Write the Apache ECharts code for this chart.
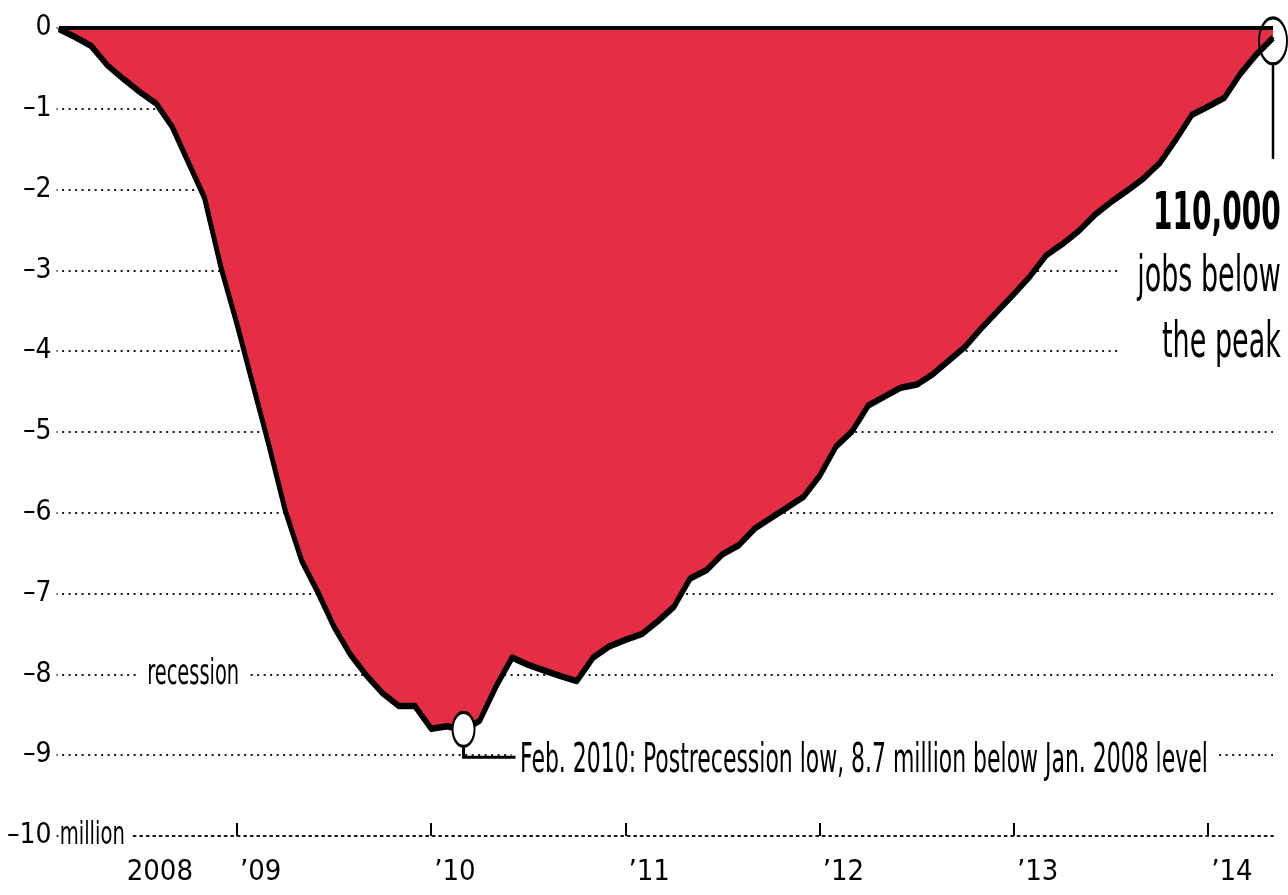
<!DOCTYPE html>
<html>
<head>
<meta charset="utf-8">
<title>Jobs below the peak</title>
<script src="https://cdn.jsdelivr.net/npm/echarts@6/dist/echarts.min.js"></script>
<style>
    html, body { margin: 0; padding: 0; background: #fff; }
    #chart { width: 1288px; height: 895px; }
</style>
</head>
<body>
<div id="chart"></div>
<script>
    // change in payroll jobs since Jan. 2008, millions, monthly Jan 2008 .. Apr 2014
    const jobsBelowPeak = [
        0, -0.10, -0.21, -0.45, -0.62, -0.78, -0.92, -1.21, -1.65, -2.09, -2.94, -3.65,
        -4.41, -5.17, -5.97, -6.58, -6.97, -7.40, -7.74, -8.00, -8.22, -8.38, -8.38, -8.66,
        -8.63, -8.68, -8.56, -8.14, -7.78, -7.87, -7.94, -8.01, -8.07, -7.78, -7.64, -7.56,
        -7.49, -7.33, -7.15, -6.80, -6.70, -6.50, -6.39, -6.18, -6.05, -5.92, -5.79, -5.53,
        -5.17, -4.98, -4.66, -4.55, -4.44, -4.40, -4.27, -4.10, -3.93, -3.70, -3.49, -3.28,
        -3.06, -2.80, -2.66, -2.50, -2.30, -2.14, -2.00, -1.85, -1.66, -1.37, -1.06, -0.96,
        -0.85, -0.55, -0.31, -0.11
    ]
    // x axis counts months since Dec. 2007, year ticks every 12 months
    const yearTicks = [0, 12, 24, 36, 48, 60, 72]
    const yearLabels = ['2008', '\u201909', '\u201910', '\u201911', '\u201912', '\u201913', '\u201914']
    const peakLevel = 0
    const lowIdx = 25 // Feb. 2010
    const lastIdx = jobsBelowPeak.length - 1

    const font = "'DejaVu Sans Condensed', 'Liberation Sans Narrow', sans-serif"
    const points = jobsBelowPeak.map((v, i) => [i + 1, v])
    const dotted = {color: '#1a1a1a', width: 2, type: [2, 4.5]}

    const chart = echarts.init(document.getElementById('chart'))

    const option = {
        animation: false,
        grid: {left: 38, right: 15, top: 28, bottom: 59},
        xAxis: {
            type: 'value',
            min: 0,
            max: 76,
            splitLine: {show: false},
            axisLine: {onZero: false, lineStyle: dotted},
            axisTick: {
                customValues: yearTicks.slice(1),
                inside: true,
                length: 13,
                lineStyle: {color: '#000', width: 2}
            },
            axisLabel: {
                customValues: yearTicks,
                margin: 22,
                align: 'left',
                formatter: v => {
                    const i = yearTicks.indexOf(v)
                    return i === 0 ? '{first|' + yearLabels[i] + '}' : '{yr|' + yearLabels[i] + '}'
                },
                rich: {
                    first: {padding: [0, 0, 0, 84], fontSize: 29, fontFamily: font, color: '#000'},
                    yr: {padding: [0, 0, 0, 3], fontSize: 29, fontFamily: font, color: '#000'}
                }
            }
        },
        yAxis: [
            {
                // labels only, drawn over the dotted lines
                type: 'value',
                min: -10,
                max: 0,
                interval: 1,
                z: 1,
                axisLine: {show: false},
                axisTick: {show: false},
                splitLine: {show: false},
                axisLabel: {
                    formatter: v => v === 0 ? '0' : '\u2013' + Math.abs(v),
                    align: 'right',
                    margin: -14,
                    fontSize: 28,
                    fontFamily: font,
                    color: '#000',
                    backgroundColor: '#fff',
                    padding: [0, 5, 0, 4]
                }
            },
            {
                // dotted grid lines
                type: 'value',
                min: -10,
                max: 0,
                interval: 1,
                position: 'left',
                z: 0,
                axisLine: {show: false},
                axisTick: {show: false},
                axisLabel: {show: false},
                splitLine: {lineStyle: dotted}
            }
        ],
        series: [
            {
                name: 'jobs',
                type: 'line',
                data: points,
                symbol: 'none',
                z: 2,
                lineStyle: {color: '#000', width: 4.5, join: 'round', shadowColor: '#000', shadowOffsetY: 2, shadowBlur: 0},
                areaStyle: {color: '#E52D44', opacity: 1},
                markPoint: {
                    symbol: 'circle',
                    silent: true,
                    label: {show: false},
                    data: [
                        {
                            coord: points[lowIdx],
                            symbolSize: [22, 34],
                            itemStyle: {color: '#fff', borderColor: '#000', borderWidth: 2.5}
                        },
                        {
                            coord: points[lastIdx],
                            symbolSize: [28, 46],
                            symbolOffset: [0, 4],
                            itemStyle: {color: 'rgba(0,0,0,0)', borderColor: '#000', borderWidth: 2.5}
                        }
                    ]
                }
            },
            {
                // the Jan. 2008 peak level
                name: 'peak',
                type: 'line',
                data: [[points[0][0], peakLevel], [points[lastIdx][0], peakLevel]],
                symbol: 'none',
                silent: true,
                z: 3,
                lineStyle: {color: '#000', width: 4}
            }
        ]
    }
    chart.setOption(option)

    // annotations placed from the data, condensed with scaleX
    const low = chart.convertToPixel({gridIndex: 0}, points[lowIdx])
    const last = chart.convertToPixel({gridIndex: 0}, points[lastIdx])
    const yAt = v => chart.convertToPixel({yAxisIndex: 0}, v)
    const xAt = v => chart.convertToPixel({xAxisIndex: 0}, v)

    chart.setOption({
        graphic: [
            {
                type: 'text',
                z: 1,
                x: xAt(0) + 17,
                y: yAt(-10),
                scaleX: 0.68,
                style: {
                    text: 'million', x: 0, y: 0, verticalAlign: 'middle',
                    font: '32px ' + font, fill: '#000', backgroundColor: '#fff', padding: [0, 10, 0, 0]
                }
            },
            {
                type: 'text',
                z: 1,
                x: xAt(9.3),
                y: yAt(-8),
                scaleX: 0.6,
                style: {
                    text: 'recession', x: 0, y: 0, align: 'center', verticalAlign: 'middle',
                    font: '36px ' + font, fill: '#000', backgroundColor: '#fff', padding: [0, 14, 0, 14]
                }
            },
            {
                type: 'polyline',
                z: 5,
                shape: {points: [[low[0], low[1] + 17], [low[0], yAt(-9) + 2], [low[0] + 52, yAt(-9) + 2]]},
                style: {stroke: '#000', lineWidth: 3, fill: null}
            },
            {
                type: 'text',
                z: 1,
                x: low[0] + 48,
                y: yAt(-9) + 6,
                scaleX: 0.61,
                style: {
                    text: 'Feb. 2010: Postrecession low, 8.7 million below Jan. 2008 level',
                    x: 0, y: 0, verticalAlign: 'middle',
                    font: '40px ' + font, fill: '#000', backgroundColor: '#fff', padding: [2, 14, 2, 14]
                }
            },
            {
                type: 'polyline',
                z: 5,
                shape: {points: [[last[0], last[1] + 27], [last[0], last[1] + 122]]},
                style: {stroke: '#000', lineWidth: 2.5, fill: null}
            },
            {
                type: 'text',
                z: 1,
                x: 1288,
                y: 101,
                scaleX: 0.6,
                style: {
                    text: '{b|110,000}\n{n|jobs below}\n{n|the peak}',
                    x: 0, y: 0, align: 'right',
                    backgroundColor: '#fff',
                    padding: [84, 12, 16, 28],
                    rich: {
                        b: {font: 'bold 52px ' + font, fill: '#000', align: 'right', lineHeight: 60},
                        n: {font: '50px ' + font, fill: '#000', align: 'right', lineHeight: 66}
                    }
                }
            }
        ]
    })
</script>
</body>
</html>
